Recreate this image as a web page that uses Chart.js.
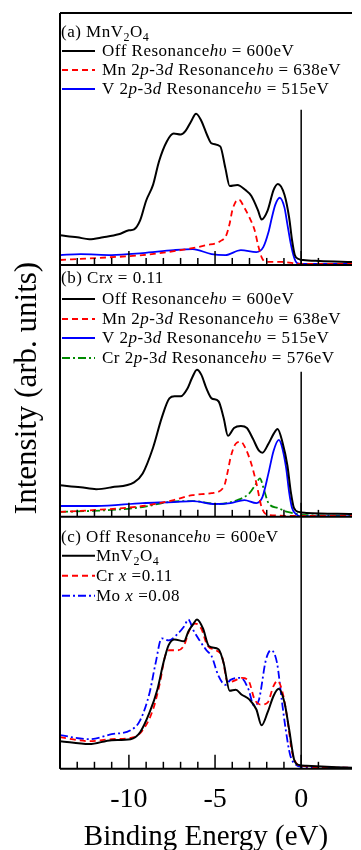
<!DOCTYPE html>
<html>
<head>
<meta charset="utf-8">
<script src="https://cdn.jsdelivr.net/npm/chart.js@4"></script>
<style>
    html, body { margin: 0; padding: 0; background: #fff; }
    #grafico { display: block; }
</style>
</head>
<body>
<canvas id="grafico" width="361" height="850"></canvas>
<script>
// eixo x: energia de ligação (eV)
const xTickLabels = [-10, -5, 0];

// (a) MnV2O4
const energiaA_off = [-14, -13, -12.3, -11.5, -10.6, -10.0, -9.7, -9.35, -9.0, -8.6, -8.25, -7.8, -7.4, -7.0, -6.7, -6.4, -6.1, -5.8, -5.45, -5.2, -4.7, -4.4, -4.15, -3.7, -3.25, -2.9, -2.5, -2.3, -1.95, -1.6, -1.35, -0.97, -0.7, -0.53, -0.37, -0.15, 0.12, 1.06, 2.95];
const valoresA_off = [30, 28, 26, 28, 31, 35, 36, 45, 65, 81, 105, 125, 133, 132, 136, 145, 153, 146, 131, 123, 120, 98, 80, 81, 76, 70, 55, 46, 55, 76, 82, 71, 48, 25, 10, 6, 5, 4, 3];
const energiaA_mn = [-14, -11.9, -9.2, -7.0, -5.5, -4.7, -4.35, -4.15, -4.0, -3.8, -3.6, -3.3, -3.0, -2.7, -2.5, -2.3, -2.05, -1.1, 0, 2.95];
const valoresA_mn = [5, 7, 10, 15, 20, 24, 30, 42, 55, 64, 66, 58, 48, 35, 20, 8, 3, 3, 1, 1];
const energiaA_v = [-14, -12.8, -11, -9.2, -7.4, -6.3, -5.2, -4.4, -3.5, -2.6, -2.2, -1.9, -1.7, -1.5, -1.25, -0.97, -0.8, -0.6, -0.42, -0.25, 0, 2.95];
const valoresA_v = [10, 11, 10, 12, 15, 16, 11, 10, 15, 13, 18, 33, 48, 61, 68, 58, 41, 21, 8, 2, 1, 1];

// (b) Cr x = 0.11
const energiaB_off = [-14, -12.8, -11.9, -11, -9.7, -9.2, -8.6, -8.1, -7.65, -7.35, -7.0, -6.6, -6.35, -6.05, -5.8, -5.5, -5.2, -4.8, -4.5, -4.25, -3.9, -3.5, -3.15, -2.8, -2.45, -2.25, -1.9, -1.6, -1.37, -1.08, -0.8, -0.6, -0.42, -0.15, 0.3, 2.95];
const valoresB_off = [32, 30, 28, 30, 35, 44, 70, 100, 120, 122, 122, 130, 140, 149, 144, 130, 120, 117, 100, 82, 90, 92, 90, 79, 67, 65, 74, 84, 89, 75, 52, 25, 9, 5, 4, 3];
const energiaB_mn = [-14, -11.9, -9.2, -7.4, -6.3, -5.2, -4.5, -4.25, -4.1, -3.8, -3.5, -3.25, -2.9, -2.6, -2.3, -1.95, 0, 2.95];
const valoresB_mn = [5, 7, 11, 17, 22, 24, 30, 47, 60, 74, 76, 70, 54, 34, 10, 2, 1, 1];
const energiaB_v = [-14, -11.9, -9.2, -7.4, -6.3, -5.0, -4.1, -3.3, -2.6, -2.25, -1.9, -1.6, -1.3, -1.13, -0.87, -0.7, -0.53, -0.25, 0, 2.95];
const valoresB_v = [11, 11, 14, 15, 16, 13, 14, 17, 14, 20, 44, 67, 78, 72, 49, 25, 9, 2, 0.5, 0.5];
const energiaB_cr = [-14, -11, -9.2, -7.7, -6.3, -4.8, -3.7, -3.0, -2.6, -2.4, -2.15, -1.9, -1.35, -0.8, -0.25, 0, 2.95];
const valoresB_cr = [5, 7, 10, 15, 16, 13, 17, 24, 34, 39, 27, 14, 9, 5, 3, 2, 1];

// (c) Off Resonance, comparação
const energiaC_mnv = [-14, -12.3, -11, -9.9, -9.35, -8.8, -8.35, -8.0, -7.7, -7.35, -6.8, -6.55, -6.25, -6.05, -5.7, -5.35, -4.8, -4.5, -4.15, -3.8, -3.45, -3.0, -2.6, -2.3, -1.95, -1.6, -1.3, -0.97, -0.7, -0.42, -0.15, 0.3, 2.95];
const valoresC_mnv = [28, 25, 29, 30, 37, 57, 80, 107, 125, 131, 129, 139, 147, 151, 142, 124, 121, 107, 79, 80, 75, 70, 60, 44, 57, 74, 81, 67, 40, 10, 4, 3, 1];
const energiaC_cr = [-14, -12.3, -11, -9.7, -9.2, -8.6, -8.2, -7.9, -7.65, -7.15, -6.8, -6.45, -6.15, -5.8, -5.45, -4.95, -4.6, -4.25, -3.9, -3.45, -3.05, -2.7, -2.35, -1.95, -1.6, -1.37, -1.05, -0.8, -0.53, -0.25, 0, 2.95];
const valoresC_cr = [32, 28, 30, 32, 39, 60, 87, 114, 120, 120, 125, 142, 147, 142, 125, 120, 114, 87, 89, 92, 89, 70, 65, 67, 84, 89, 75, 50, 17, 5, 3, 1];
const energiaC_mo = [-14, -12.3, -11, -9.9, -9.35, -8.8, -8.45, -8.1, -7.7, -7.15, -6.8, -6.55, -6.25, -5.9, -5.5, -5.2, -4.8, -4.4, -4.1, -3.5, -3.05, -2.75, -2.45, -2.05, -1.75, -1.4, -1.13, -0.9, -0.64, -0.3, 0, 2.95];
const valoresC_mo = [34, 30, 35, 39, 49, 77, 107, 132, 130, 137, 144, 151, 140, 130, 120, 114, 94, 85, 90, 92, 80, 64, 70, 110, 120, 107, 70, 40, 14, 4, 2, 1];

// textos
const titulosPaineis = ['(a) MnV<sub>2</sub>O<sub>4</sub>', '(b) Cr<i>x</i> = 0.11', '(c) Off Resonance<i>hυ</i> = 600eV'];
const legendaA = ['Off Resonance<i>hυ</i> = 600eV', 'Mn 2<i>p</i>-3<i>d</i> Resonance<i>hυ</i> = 638eV', 'V 2<i>p</i>-3<i>d</i> Resonance<i>hυ</i> = 515eV'];
const legendaB = ['Off Resonance<i>hυ</i> = 600eV', 'Mn 2<i>p</i>-3<i>d</i> Resonance<i>hυ</i> = 638eV', 'V 2<i>p</i>-3<i>d</i> Resonance<i>hυ</i> = 515eV', 'Cr 2<i>p</i>-3<i>d</i> Resonance<i>hυ</i> = 576eV'];
const legendaC = ['MnV<sub>2</sub>O<sub>4</sub>', 'Cr <i>x</i> =0.11', 'Mo <i>x</i> =0.08'];

const SERIF = '"Liberation Serif", "Times New Roman", serif';
const PRETO = '#000000', VERMELHO = '#ff0000', AZUL = '#0000ff', VERDE = '#008a00';
const TRACO = [6, 4], TRACO_PONTO = [8, 3, 2, 3];

function pontos(es, vs) {
    return es.map((e, i) => ({ x: e, y: vs[i] }));
}

function serie(label, es, vs, eixo, cor, dash, largura) {
    return {
        label: label,
        data: pontos(es, vs),
        yAxisID: eixo,
        borderColor: cor,
        borderDash: dash,
        borderWidth: largura,
        pointRadius: 0,
        fill: false,
        cubicInterpolationMode: 'monotone'
    };
}

const datasets = [
    serie('A off', energiaA_off, valoresA_off, 'ya', PRETO, [], 2),
    serie('A mn', energiaA_mn, valoresA_mn, 'ya', VERMELHO, TRACO, 1.8),
    serie('A v', energiaA_v, valoresA_v, 'ya', AZUL, [], 1.8),
    serie('B off', energiaB_off, valoresB_off, 'yb', PRETO, [], 2),
    serie('B mn', energiaB_mn, valoresB_mn, 'yb', VERMELHO, TRACO, 1.8),
    serie('B v', energiaB_v, valoresB_v, 'yb', AZUL, [], 1.8),
    serie('B cr', energiaB_cr, valoresB_cr, 'yb', VERDE, TRACO_PONTO, 1.8),
    serie('C mnv', energiaC_mnv, valoresC_mnv, 'yc', PRETO, [], 2),
    serie('C cr', energiaC_cr, valoresC_cr, 'yc', VERMELHO, TRACO, 1.8),
    serie('C mo', energiaC_mo, valoresC_mo, 'yc', AZUL, TRACO_PONTO, 1.8)
];

function eixoPainel() {
    return {
        type: 'linear',
        position: 'left',
        stack: 'paineis',
        stackWeight: 1,
        min: 0,
        max: 255,
        grid: { display: false },
        border: { display: false },
        ticks: { display: false }
    };
}

// texto com <i> e <sub>
function textoRico(ctx, str, x, y, tam) {
    const partes = str.split(/(<i>.*?<\/i>|<sub>.*?<\/sub>)/).filter(s => s);
    for (const p of partes) {
        let txt = p, fonte = tam + 'px ' + SERIF, dy = 0;
        if (p.startsWith('<i>')) {
            txt = p.slice(3, -4);
            fonte = 'italic ' + tam + 'px ' + SERIF;
        } else if (p.startsWith('<sub>')) {
            txt = p.slice(5, -6);
            fonte = Math.round(tam * 0.7) + 'px ' + SERIF;
            dy = tam * 0.3;
        }
        ctx.font = fonte;
        ctx.fillText(txt, x, y + dy);
        x += ctx.measureText(txt).width;
    }
}

function linha(ctx, x1, y1, x2, y2) {
    ctx.beginPath();
    ctx.moveTo(x1, y1);
    ctx.lineTo(x2, y2);
    ctx.stroke();
}

const paineis = [
    { eixo: 'ya', titulo: 0, tituloY: 20, linhas: [39, 58, 77], textoX: 102, zero: 157,
      legenda: legendaA, estilos: [[PRETO, []], [VERMELHO, TRACO], [AZUL, []]] },
    { eixo: 'yb', titulo: 1, tituloY: 14, linhas: [35, 55, 74, 94], textoX: 102, zero: 147,
      legenda: legendaB, estilos: [[PRETO, []], [VERMELHO, TRACO], [AZUL, []], [VERDE, TRACO_PONTO]] },
    { eixo: 'yc', titulo: 2, tituloY: 21, linhas: [40, 60, 80], textoX: 96, zero: 255,
      legenda: legendaC, estilos: [[PRETO, []], [VERMELHO, TRACO], [AZUL, TRACO_PONTO]] }
];

const molduraPlugin = {
    id: 'moldura',
    afterDraw(chart) {
        const ctx = chart.ctx;
        const { left, right, top, bottom } = chart.chartArea;
        const x = chart.scales.x;
        ctx.save();
        ctx.strokeStyle = PRETO;
        ctx.fillStyle = PRETO;
        ctx.setLineDash([]);
        ctx.lineWidth = 2;
        linha(ctx, left, top, right, top);
        linha(ctx, left, top, left, bottom);

        const x0 = x.getPixelForValue(0);
        paineis.forEach(p => {
            const s = chart.scales[p.eixo];
            ctx.lineWidth = 2;
            ctx.setLineDash([]);
            linha(ctx, left, s.bottom, right, s.bottom);
            ctx.lineWidth = 1.5;
            x.ticks.forEach(t => {
                if (!Number.isInteger(t.value)) return;
                const px = x.getPixelForValue(t.value);
                const len = t.value % 5 === 0 ? 14 : 7;
                linha(ctx, px, s.bottom, px, s.bottom - len);
            });
            linha(ctx, x0, s.getPixelForValue(p.zero), x0, s.bottom);

            // legenda
            ctx.textBaseline = 'middle';
            ctx.textAlign = 'left';
            ctx.letterSpacing = '0.5px';
            textoRico(ctx, titulosPaineis[p.titulo], 61, s.top + p.tituloY, 17);
            p.linhas.forEach((dy, i) => {
                const [cor, dash] = p.estilos[i];
                ctx.strokeStyle = cor;
                ctx.lineWidth = 2;
                ctx.setLineDash(dash);
                linha(ctx, 62, s.top + dy - 1, 95, s.top + dy - 1);
                ctx.setLineDash([]);
                ctx.strokeStyle = PRETO;
                textoRico(ctx, p.legenda[i], p.textoX, s.top + dy, 17);
            });
            ctx.letterSpacing = '0px';
        });

        // título do eixo y
        ctx.translate(28, 388);
        ctx.rotate(-Math.PI / 2);
        ctx.font = '31px ' + SERIF;
        ctx.textAlign = 'center';
        ctx.textBaseline = 'middle';
        ctx.fillText('Intensity (arb. units)', 0, 0);
        ctx.restore();
    }
};

const ctx = document.getElementById('grafico');

new Chart(ctx, {
    type: 'line',
    data: { datasets: datasets },
    options: {
        responsive: false,
        animation: false,
        events: [],
        layout: { padding: { left: 52, top: 13, right: 0, bottom: 0 } },
        plugins: {
            legend: { display: false },
            tooltip: { enabled: false }
        },
        scales: {
            x: {
                type: 'linear',
                min: -14,
                max: 2.95,
                grid: { display: false },
                border: { display: false },
                ticks: {
                    stepSize: 1,
                    autoSkip: false,
                    maxRotation: 0,
                    padding: 9,
                    color: PRETO,
                    font: { family: SERIF, size: 28, lineHeight: 1 },
                    callback: v => xTickLabels.includes(v) ? String(v) : ''
                },
                title: {
                    display: true,
                    text: 'Binding Energy (eV)',
                    color: PRETO,
                    font: { family: SERIF, size: 29, lineHeight: 0.8 },
                    padding: { top: 3, bottom: 1 }
                }
            },
            // os eixos empilhados são colocados de baixo para cima
            yc: eixoPainel(),
            yb: eixoPainel(),
            ya: eixoPainel()
        }
    },
    plugins: [molduraPlugin]
});
</script>
</body>
</html>
